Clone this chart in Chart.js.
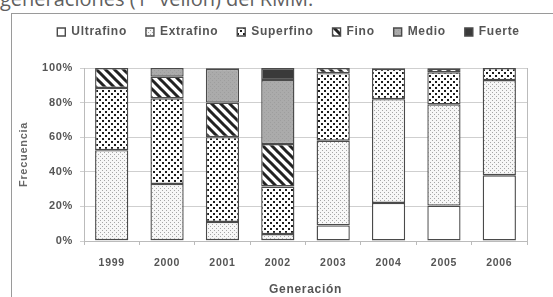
<!DOCTYPE html>
<html>
<head>
<meta charset="utf-8">
<script src="https://cdn.jsdelivr.net/npm/chart.js@4"></script>
<style>
  html, body { margin: 0; padding: 0; background: #fff; }
  #wrap { position: relative; width: 553px; height: 297px; overflow: hidden; }
  #frame { position: absolute; left: 11px; top: 13px; width: 560px; height: 300px;
           border-left: 1px solid #9a9a9a; border-top: 1px solid #9a9a9a; }
  #caption { position: absolute; left: 0; top: -15px; font-family: "Open Sans", sans-serif;
             font-size: 20px; color: #606060; white-space: nowrap; }
  canvas { position: absolute; left: 0; top: 0; }
</style>
</head>
<body>
<div id="wrap">
  <div id="caption">generaciones (1ª vellón) del RMM.</div>
  <div id="frame"></div>
  <canvas id="chart" width="553" height="297"></canvas>
</div>
<script>
const generaciones = ["1999", "2000", "2001", "2002", "2003", "2004", "2005", "2006"];
const categorias = ["Ultrafino", "Extrafino", "Superfino", "Fino", "Medio", "Fuerte"];
const ultrafino = [0.5, 0.5, 0.5, 0.5, 9, 22, 20.5, 38];
const extrafino = [52, 32.5, 10.5, 3.5, 49, 60, 58.5, 55];
const superfino = [36, 49.5, 49, 27.5, 39, 17.5, 18.5, 7];
const fino = [11.5, 12.5, 20, 24.5, 3, 0.5, 2, 0];
const medio = [0, 5, 19.5, 37, 0, 0, 0.5, 0];
const fuerte = [0, 0, 0.5, 7, 0, 0, 0, 0];
const yTicks = [0, 20, 40, 60, 80, 100];

function tile(size, draw) {
    const c = document.createElement("canvas");
    c.width = size;
    c.height = size;
    const g = c.getContext("2d");
    draw(g);
    return g.createPattern(c, "repeat");
}

const pUltra = "#ffffff";
const pExtra = tile(4, g => {
    g.fillStyle = "#f7f7f7";
    g.fillRect(0, 0, 4, 4);
    g.fillStyle = "#a6a6a6";
    g.fillRect(0, 0, 1, 1);
    g.fillRect(2, 2, 1, 1);
});
const pSuper = tile(6, g => {
    g.fillStyle = "#ffffff";
    g.fillRect(0, 0, 6, 6);
    g.fillStyle = "#1e1e1e";
    g.fillRect(0, 0, 2, 2);
    g.fillRect(3, 3, 2, 2);
});
const pFino = tile(9, g => {
    g.fillStyle = "#ffffff";
    g.fillRect(0, 0, 9, 9);
    g.strokeStyle = "#222";
    g.lineWidth = 3;
    g.beginPath();
    g.moveTo(-2, -2); g.lineTo(11, 11);
    g.moveTo(-2, 7); g.lineTo(2, 11);
    g.moveTo(7, -2); g.lineTo(11, 2);
    g.stroke();
});
const pMedio = tile(4, g => {
    g.fillStyle = "#ababab";
    g.fillRect(0, 0, 4, 4);
    g.fillStyle = "#9e9e9e";
    g.fillRect(0, 0, 1, 1);
    g.fillRect(2, 2, 1, 1);
});
const pFuerte = "#3a3a3a";

const fills = [pUltra, pExtra, pSuper, pFino, pMedio, pFuerte];
const series = [ultrafino, extrafino, superfino, fino, medio, fuerte];

const txt = "#555";
const fam = "Liberation Sans, Arial, sans-serif";

// wide letter spacing like the original, room under the legend, legend a bit right
const spacing = {
    id: "spacing",
    beforeInit(chart) {
        const fit = chart.legend.fit;
        chart.legend.fit = function () {
            fit.call(this);
            this.height += 20;
        };
    },
    beforeUpdate(chart) { chart.ctx.letterSpacing = "0.7px"; },
    beforeDraw(chart) { chart.ctx.letterSpacing = "0.7px"; },
    afterLayout(chart) {
        chart.legend.left += 19;
        chart.legend.right += 19;
    }
};

new Chart(document.getElementById("chart").getContext("2d"), {
    type: "bar",
    data: {
        labels: generaciones,
        datasets: categorias.map((name, i) => ({
            label: name,
            data: series[i],
            backgroundColor: fills[i],
            borderColor: "#4a4a4a",
            borderWidth: 1.4,
            borderSkipped: false,
            categoryPercentage: 1,
            barPercentage: 0.6
        }))
    },
    options: {
        responsive: false,
        animation: false,
        layout: { padding: { left: 12, right: 26, top: 7, bottom: 0 } },
        plugins: {
            tooltip: { enabled: false },
            legend: {
                position: "top",
                labels: {
                    color: txt,
                    font: { family: fam, size: 12, weight: "bold" },
                    boxWidth: 8,
                    boxHeight: 8,
                    padding: 19,
                    useBorderRadius: false
                }
            }
        },
        scales: {
            x: {
                stacked: true,
                grid: { drawOnChartArea: false, drawTicks: true, tickLength: 4, color: "#bbb", offset: true },
                border: { color: "#bbb" },
                ticks: { color: txt, font: { family: fam, size: 10.5, weight: "bold" }, padding: 12 },
                title: { display: true, text: "Generación", color: txt, font: { family: fam, size: 12, weight: "bold" }, padding: { top: 0, bottom: 0 } },
                afterFit: s => { s.height = 56; }
            },
            y: {
                stacked: true,
                min: 0,
                max: 100,
                afterBuildTicks: s => { s.ticks = yTicks.map(v => ({ value: v })); },
                grid: { color: "#cfcfcf", tickLength: 4 },
                border: { color: "#bbb" },
                ticks: { color: txt, font: { family: fam, size: 11, weight: "bold" }, padding: 7, callback: v => v + "%" },
                title: { display: true, text: "Frecuencia", color: "#666", font: { family: fam, size: 11, weight: "bold" }, padding: { top: 5, bottom: 0 } },
                afterFit: s => { s.width = 72; }
            },
            yr: {
                position: "right",
                min: 0,
                max: 100,
                grid: { drawOnChartArea: false, drawTicks: false },
                border: { display: true, color: "#bbb" },
                ticks: { display: false },
                afterFit: s => { s.width = 0; }
            }
        }
    },
    plugins: [spacing]
});
</script>
</body>
</html>
